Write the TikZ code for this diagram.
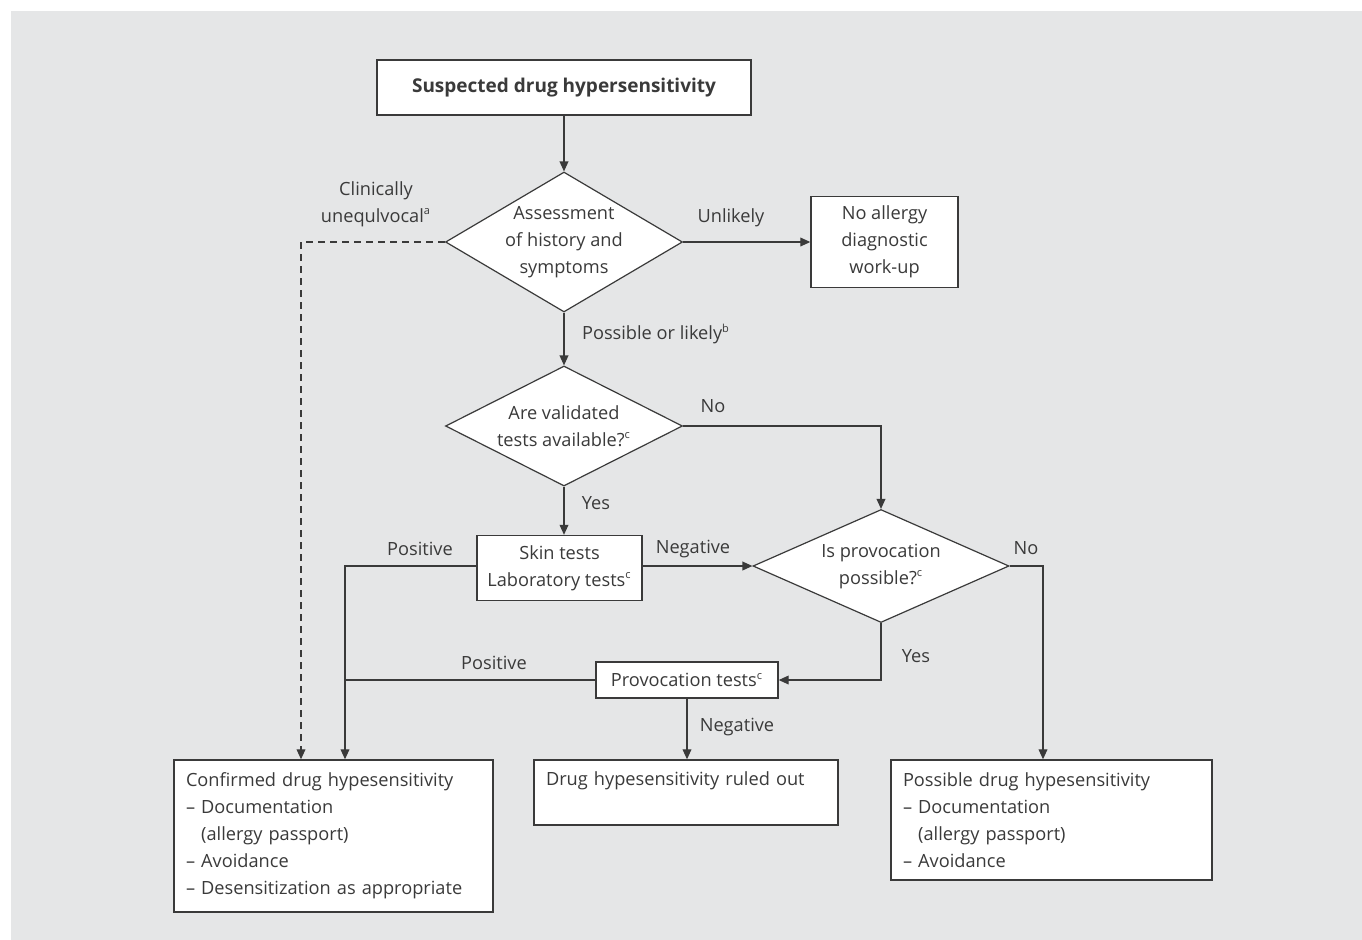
\documentclass[tikz,border=0pt]{standalone}
\usepackage{fontspec}
\setmainfont{Open Sans}
\usetikzlibrary{shapes.geometric,arrows.meta,positioning}
\definecolor{panel}{HTML}{E5E6E7}
\definecolor{ink}{HTML}{3A3A3A}
\newcommand{\fnm}[1]{\textsuperscript{\fontsize{5.5}{6}\selectfont #1}}
\tikzset{
  box/.style={draw=ink, fill=white, line width=0.7pt, inner sep=0pt, align=center, text=ink},
  listbox/.style={box, align=left, inner xsep=6pt},
  decision/.style={diamond, draw=ink, fill=white, line width=0.6pt, inner sep=-4pt, align=center, text=ink},
  link/.style={draw=ink, line width=0.6pt},
  arr/.style={link, -{Triangle[length=5pt,width=4.4pt]}},
  lbl/.style={text=ink, inner sep=0pt, align=center},
}

\begin{document}
\begin{tikzpicture}[x=0.5pt, y=-0.5pt, font=\fontsize{9.1}{13.5}\selectfont]
		%panel
		\useasboundingbox (0,0) rectangle (1362,939);
		\fill[panel] (11,11) rectangle (1372,949);
		
		%boxes and decisions
		\node[box, minimum width=187pt, minimum height=27.5pt, font=\fontsize{9.5}{13.5}\selectfont\bfseries] (start) at (564,87.5) {Suspected drug hypersensitivity};
		\node[decision, aspect=1.7, minimum width=118.5pt, minimum height=70pt] (assess) at (564,242) {Assessment\\of history and\\symptoms};
		\node[box, minimum width=73.5pt, minimum height=45.5pt] (noallergy) at (884.5,242) {No allergy\\diagnostic\\work-up};
		\node[decision, aspect=2, minimum width=118.5pt, minimum height=60pt] (valid) at (564,426) {Are validated\\tests available?\fnm{c}};
		\node[box, minimum width=82.5pt, minimum height=32.5pt] (skin) at (559.5,568) {Skin tests\\Laboratory tests\fnm{c}};
		\node[decision, aspect=2.27, minimum width=128pt, minimum height=56.5pt] (provq) at (881,566) {Is provocation\\possible?\fnm{c}};
		\node[box, minimum width=91pt, minimum height=18pt] (prov) at (687,680) {Provocation tests\fnm{c}};
		
		%outcomes
		\node[listbox, text width=147.5pt, minimum height=76pt] (confirmed) at (333.5,836) {Confirmed drug hypesensitivity\\
			-- Documentation\\
			\hphantom{-- }(allergy passport)\\
			-- Avoidance\\
			-- Desensitization as appropriate};
		\node[listbox, text width=140pt, minimum height=32.5pt] (ruled) at (686,792.5) {Drug hypesensitivity ruled out\\\mbox{}};
		\node[listbox, text width=148.5pt, minimum height=60pt] (possible) at (1051.5,820) {Possible drug hypesensitivity\\
			-- Documentation\\
			\hphantom{-- }(allergy passport)\\
			-- Avoidance};
		
		%connectors
		\coordinate (posin) at ([xshift=5.75pt]confirmed.north);
		\coordinate (clinin) at ([xshift=-16.25pt]confirmed.north);
		\coordinate (noin) at ([xshift=-4.25pt]possible.north);
		\draw[arr] (start) -- (assess);
		\draw[arr] (assess.east) -- (noallergy.west);
		\draw[arr] (assess) -- (valid);
		\draw[arr] (valid.south) -- (valid.south |- skin.north);
		\draw[arr] (valid.east) -| (provq.north);
		\draw[arr] (skin.east |- provq.west) -- (provq.west);
		\draw[arr] (provq.east) -| (noin);
		\draw[arr] (provq.south) |- (prov.east);
		\draw[arr] (prov.south) -- (prov.south |- ruled.north);
		\draw[arr] (skin.west |- provq.west) -| (posin);
		\draw[link] (prov.west) -- (prov.west -| posin);
		\draw[arr, dash pattern=on 3.5pt off 2.5pt] (assess.west) -| (clinin);
		
		%labels
		\node[lbl] (clinlbl) at (376,204) {Clinically\\unequlvocal\fnm{a}};
		\node[lbl] (unlikely) at (731,218) {Unlikely};
		\node[lbl] (likely) at (656,334) {Possible or likely\fnm{b}};
		\node[lbl] (novalid) at (713,406) {No};
		\node[lbl] (yesvalid) at (596,503) {Yes};
		\node[lbl] (posskin) at (420,549) {Positive};
		\node[lbl] (negskin) at (693,549) {Negative};
		\node[lbl] (noprov) at (1026,548) {No};
		\node[lbl] (yesprov) at (916,656) {Yes};
		\node[lbl] (posprov) at (494,663) {Positive};
		\node[lbl] (negprov) at (737,727) {Negative};
\end{tikzpicture}
\end{document}
